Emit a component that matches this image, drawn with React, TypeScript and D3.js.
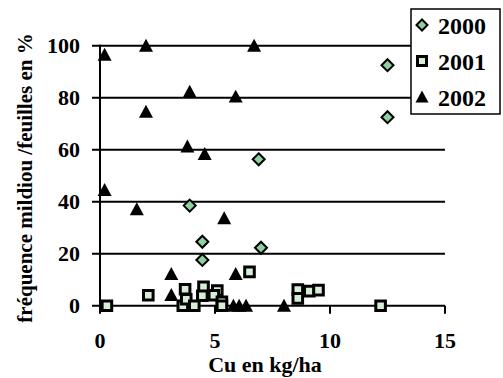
import React, { useRef, useEffect } from 'react';
import * as d3 from 'd3';

// Cu (kg/ha) vs mildiou frequency (%) per year
const cu2000 = [12.5, 12.5, 6.9, 3.9, 4.45, 4.45, 7.0];
const freq2000 = [92.5, 72.5, 56.3, 38.5, 24.6, 17.6, 22.3];

const cu2001 = [0.3, 2.1, 3.6, 3.7, 3.75, 4.1, 4.5, 4.45, 5.1, 4.95, 5.3, 5.3, 6.5, 8.6, 8.6, 9.1, 9.5, 12.2];
const freq2001 = [0, 4, 0, 6.3, 2.5, 0, 7.3, 3.8, 5.8, 4, 1.5, 0, 13, 6.2, 2.8, 5.6, 6, 0];

const cu2002 = [0.2, 2.0, 6.7, 3.9, 5.9, 2.0, 3.8, 4.55, 0.2, 1.6, 5.4, 3.1, 3.1, 5.9, 5.8, 6.05, 6.35, 8.0];
const freq2002 = [96.5, 100, 100, 82.3, 80.4, 74.6, 61.2, 58.3, 44.5, 37.1, 33.6, 12.2, 4.1, 12.2, 0, 0, 0, 0];

const xTicks = [0, 5, 10, 15];
const yTicks = [0, 20, 40, 60, 80, 100];
const seriesNames = ['2000', '2001', '2002'];

const W = 503;
const H = 378;

const diamond = (x: number, y: number, r: number) =>
  `M${x},${y - r}L${x + r},${y}L${x},${y + r}L${x - r},${y}Z`;
const square = (x: number, y: number, r: number) =>
  `M${x - r},${y - r}H${x + r}V${y + r}H${x - r}Z`;
const triangle = (x: number, y: number, r: number) =>
  `M${x},${y - r}L${x + r},${y + r * 0.85}L${x - r},${y + r * 0.85}Z`;

export default function App() {
  const svgRef = useRef<SVGSVGElement>(null);

  useEffect(() => {
    if (!svgRef.current) return;
    const svg = d3.select(svgRef.current);
    svg.selectAll('*').remove();

    const x = d3.scaleLinear().domain([0, 15]).range([100, 445]);
    const y = d3.scaleLinear().domain([0, 100]).range([305.7, 45.7]);

    // grid lines
    svg.append('g')
      .selectAll('line')
      .data(yTicks)
      .enter()
      .append('line')
      .attr('x1', 92)
      .attr('x2', x(15))
      .attr('y1', d => y(d))
      .attr('y2', d => y(d))
      .attr('stroke', '#000')
      .attr('stroke-width', 2);

    // y axis
    svg.append('line')
      .attr('x1', x(0)).attr('x2', x(0))
      .attr('y1', y(100) - 1).attr('y2', y(0) + 8)
      .attr('stroke', '#000').attr('stroke-width', 2);

    // x ticks
    svg.append('g')
      .selectAll('line')
      .data(xTicks.slice(1))
      .enter()
      .append('line')
      .attr('x1', d => x(d)).attr('x2', d => x(d))
      .attr('y1', y(0)).attr('y2', y(0) + 8)
      .attr('stroke', '#000').attr('stroke-width', 2);

    const font = '"Liberation Serif", serif';

    svg.append('g')
      .selectAll('text')
      .data(yTicks)
      .enter()
      .append('text')
      .attr('x', 80)
      .attr('y', d => y(d) + 7.5)
      .attr('text-anchor', 'end')
      .style('font-family', font)
      .style('font-weight', '600')
      .style('font-size', '22px')
      .text(d => String(d));

    svg.append('g')
      .selectAll('text')
      .data(xTicks)
      .enter()
      .append('text')
      .attr('x', d => x(d))
      .attr('y', 348)
      .attr('text-anchor', 'middle')
      .style('font-family', font)
      .style('font-weight', '600')
      .style('font-size', '22px')
      .text(d => String(d));

    svg.append('text')
      .attr('x', 265)
      .attr('y', 372)
      .attr('text-anchor', 'middle')
      .style('font-family', font)
      .style('font-weight', '700')
      .style('font-size', '22px')
      .text('Cu en kg/ha');

    svg.append('text')
      .attr('transform', 'translate(32,178) rotate(-90)')
      .attr('text-anchor', 'middle')
      .style('font-family', font)
      .style('font-weight', '700')
      .style('font-size', '21px')
      .text('fréquence mildiou /feuilles en %');

    // series
    const s2001 = cu2001.map((c, i) => ({ c, f: freq2001[i] }));
    const s2002 = cu2002.map((c, i) => ({ c, f: freq2002[i] }));
    const s2000 = cu2000.map((c, i) => ({ c, f: freq2000[i] }));

    svg.append('g')
      .selectAll('path')
      .data(s2001)
      .enter()
      .append('path')
      .attr('d', d => square(x(d.c), y(d.f), 4.8))
      .attr('fill', '#d6eed6')
      .attr('stroke', '#000')
      .attr('stroke-width', 3);

    svg.append('g')
      .selectAll('path')
      .data(s2002)
      .enter()
      .append('path')
      .attr('d', d => triangle(x(d.c), y(d.f), 7))
      .attr('fill', '#000');

    svg.append('g')
      .selectAll('path')
      .data(s2000)
      .enter()
      .append('path')
      .attr('d', d => diamond(x(d.c), y(d.f), 6))
      .attr('fill', '#8fcfa0')
      .attr('stroke', '#000')
      .attr('stroke-width', 2);

    // legend
    const lg = svg.append('g');
    lg.append('rect')
      .attr('x', 411).attr('y', 9)
      .attr('width', 89).attr('height', 105)
      .attr('fill', '#fff')
      .attr('stroke', '#000')
      .attr('stroke-width', 1.5);

    const rowY = [25, 61, 97];
    seriesNames.forEach((name, i) => {
      const cy = rowY[i];
      const mx = 422;
      if (i === 0) {
        lg.append('path').attr('d', diamond(mx, cy, 5.5))
          .attr('fill', '#8fcfa0').attr('stroke', '#000').attr('stroke-width', 2);
      } else if (i === 1) {
        lg.append('path').attr('d', square(mx, cy, 4.5))
          .attr('fill', '#d6eed6').attr('stroke', '#000').attr('stroke-width', 3);
      } else {
        lg.append('path').attr('d', triangle(mx, cy, 6.5)).attr('fill', '#000');
      }
      lg.append('text')
        .attr('x', 438)
        .attr('y', cy + 9)
        .style('font-family', font)
        .style('font-weight', '600')
        .style('font-size', '24px')
        .text(name);
    });
  }, []);

  return (
    <svg
      ref={svgRef}
      width={W}
      height={H}
      style={{ position: 'absolute', left: 0, top: 0, background: '#fff' }}
    />
  );
}
